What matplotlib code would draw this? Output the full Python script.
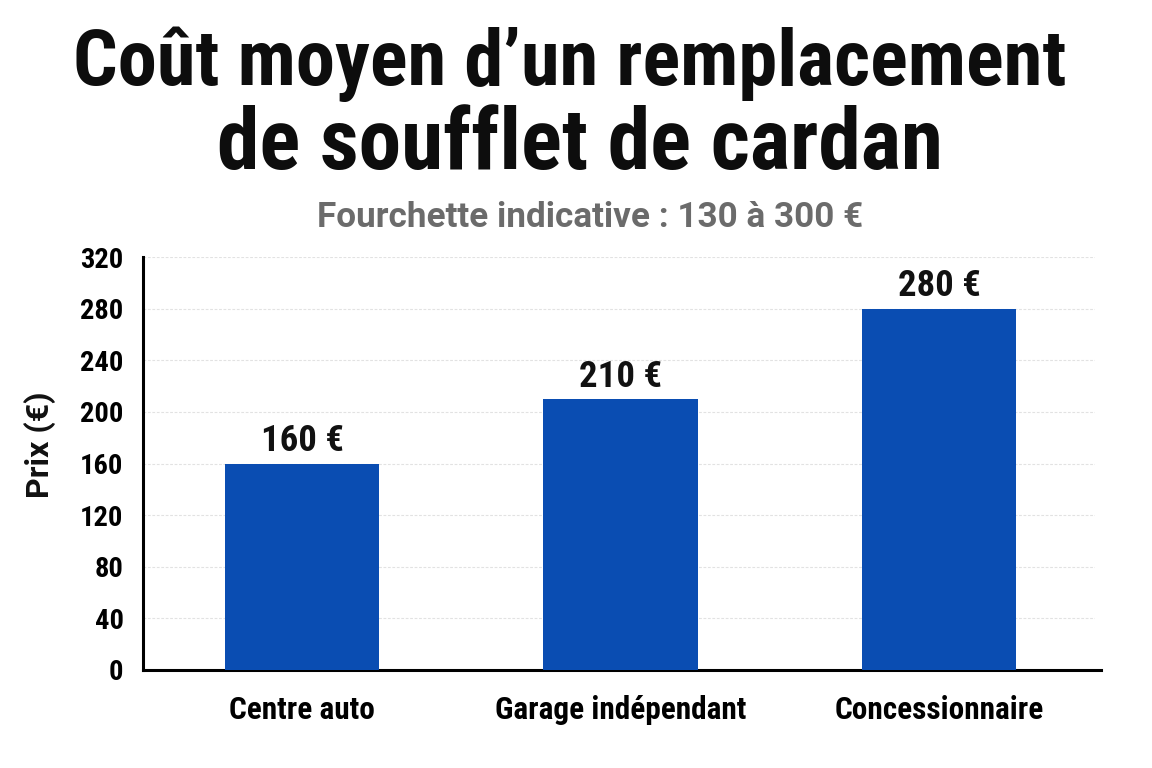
import matplotlib
matplotlib.use("Agg")
import matplotlib.pyplot as plt

categories = ["Centre auto", "Garage indépendant", "Concessionnaire"]
values = [160, 210, 280]
bar_labels = ["160 €", "210 €", "280 €"]
yticks = [0, 40, 80, 120, 160, 200, 240, 280, 320]

COND = ["Roboto Condensed", "Roboto", "DejaVu Sans"]
REG = ["Roboto", "DejaVu Sans"]
plt.rcParams["font.family"] = COND

fig = plt.figure(figsize=(11.52, 7.68), dpi=100)
ax = fig.add_axes([143/1152, 1-670/768, (1095-143)/1152, (670-257)/768])

ax.bar(range(len(categories)), values, width=0.485, color="#0A4DB2", zorder=3)
ax.set_xlim(-0.5, 2.49)
ax.set_ylim(0, 320)
ax.set_yticks(yticks)
ax.set_yticklabels([str(t) for t in yticks], fontsize=20.5, fontweight="bold")
ax.set_xticks(range(len(categories)))
ax.set_xticklabels(categories, fontsize=22.5, fontweight="bold")
ax.tick_params(axis="y", length=0, pad=14)
ax.tick_params(axis="x", length=0, pad=18)
ax.grid(axis="y", linestyle=(0, (2.5, 1.5)), color="#e2e2e2", linewidth=0.8, zorder=0)
for s in ["top", "right"]:
    ax.spines[s].set_visible(False)
ax.spines["left"].set_linewidth(2.2)
ax.spines["bottom"].set_linewidth(2.2)
ax.spines["bottom"].set_bounds(-0.5, 2.51)
ax.spines["bottom"].set_clip_on(False)

for i, (v, lab) in enumerate(zip(values, bar_labels)):
    ax.annotate(lab, (i, v), xytext=(0, 3), textcoords="offset points",
                ha="center", va="bottom", fontsize=26.5, fontweight="bold", color="#111111")

fig.text(40/1152, 1-445/768, "Prix (€)", rotation=90, ha="center", va="center",
         fontsize=23, fontweight="bold", family=REG, color="#111111")

fig.text(570/1152, 1-85/768, "Coût moyen d’un remplacement", ha="center", va="baseline",
         fontsize=56.5, fontweight="heavy", color="#0d0d0d")
fig.text(580/1152, 1-169/768, "de soufflet de cardan", ha="center", va="baseline",
         fontsize=61.5, fontweight="heavy", color="#0d0d0d")
fig.text(590/1152, 1-227/768, "Fourchette indicative : 130 à 300 €", ha="center", va="baseline",
         fontsize=25.3, fontweight="bold", family=REG, color="#6b6b6b")

fig.savefig("out.png", dpi=100, facecolor="white")
